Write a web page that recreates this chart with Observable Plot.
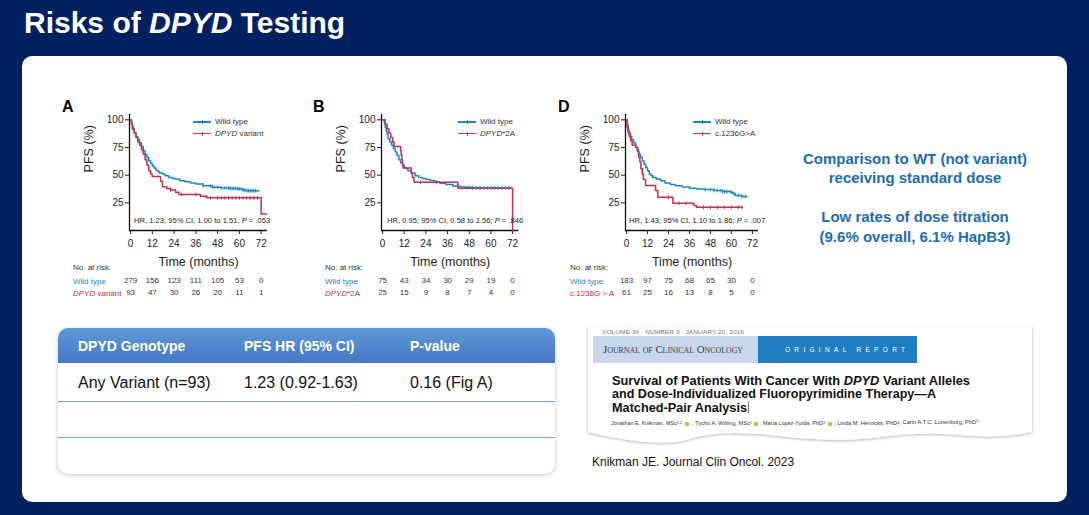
<!DOCTYPE html>
<html><head><meta charset="utf-8">
<script src="https://cdn.jsdelivr.net/npm/d3@7"></script>
<script src="https://cdn.jsdelivr.net/npm/@observablehq/plot@0.6"></script>
<style>
html,body{margin:0;padding:0;}
body{width:1089px;height:515px;background:#002060;position:relative;overflow:hidden;font-family:"Liberation Sans",Arial,sans-serif;}
.abs{position:absolute;white-space:nowrap;line-height:1;}
.c{transform:translateY(-50%);}
#panel{position:absolute;left:22px;top:56px;width:1045px;height:446px;background:#fff;border-radius:10px;}
#title{left:24px;top:7.6px;font-size:30px;font-weight:bold;color:#fff;}
.plotbox{position:absolute;top:90px;}
.side{position:absolute;left:765px;width:300px;text-align:center;color:#1b6cb3;font-weight:bold;font-size:15px;line-height:1;}
#table{position:absolute;left:58px;top:328px;width:497px;height:146px;border-radius:10px;background:#fff;box-shadow:0 1px 5px rgba(0,0,0,0.22);overflow:hidden;}
#thead{position:absolute;left:0;top:0;width:100%;height:35px;background:linear-gradient(#5e9ad6,#4676c6);}
.th{position:absolute;top:17.5px;transform:translateY(-50%);color:#fff;font-weight:bold;font-size:14px;line-height:1;white-space:nowrap;}
.td{position:absolute;top:55px;transform:translateY(-50%);color:#111;font-size:16px;line-height:1;white-space:nowrap;}
.hl{position:absolute;left:0;width:100%;height:1px;background:#7f9bd6;}
</style></head><body>
<div id="title" class="abs">Risks of <i>DPYD</i> Testing</div>
<div id="panel"></div>
<div id="overlay"></div>

<div class="side" style="top:151px;">Comparison to WT (not variant)</div>
<div class="side" style="top:170px;">receiving standard dose</div>
<div class="side" style="top:209px;">Low rates of dose titration</div>
<div class="side" style="top:229px;">(9.6% overall, 6.1% HapB3)</div>

<div id="table">
  <div id="thead"></div>
  <div class="th" style="left:20px;">DPYD Genotype</div>
  <div class="th" style="left:186px;">PFS HR (95% CI)</div>
  <div class="th" style="left:352px;">P-value</div>
  <div class="td" style="left:20px;">Any Variant (n=93)</div>
  <div class="td" style="left:186px;">1.23 (0.92-1.63)</div>
  <div class="td" style="left:352px;">0.16 (Fig A)</div>
  <div class="hl" style="top:73px;"></div>
  <div class="hl" style="top:109px;"></div>
</div>

<svg style="position:absolute;left:580px;top:318px;overflow:visible" width="460" height="130">
  <defs><filter id="sh" x="-5%" y="-10%" width="110%" height="130%"><feDropShadow dx="0" dy="1" stdDeviation="1.6" flood-color="#000" flood-opacity="0.3"/></filter></defs>
  <path d="M8,8 H452 V114 Q420,121 380,117 T300,119 T200,118 T110,121 T8,114 Z" fill="#fff" filter="url(#sh)"/>
  <g transform="translate(8,8)" font-family="Liberation Sans, Arial, sans-serif">
    <text x="14" y="7" font-size="5.5" fill="#777" dominant-baseline="middle" textLength="142" lengthAdjust="spacingAndGlyphs">VOLUME 34 · NUMBER 3 · JANUARY 20, 2016</text>
    <rect x="5" y="10" width="165" height="27" fill="#c9d7eb"/>
    <text x="15" y="24" font-family="Liberation Serif, serif" font-size="11" fill="#3a3a3a" dominant-baseline="middle" style="font-variant:small-caps" textLength="140" lengthAdjust="spacingAndGlyphs">Journal of Clinical Oncology</text>
    <rect x="170" y="10" width="159" height="27" fill="#1f7dc2"/>
    <text x="197" y="24" font-size="6.5" fill="#fff" dominant-baseline="middle" textLength="120" lengthAdjust="spacing">ORIGINAL REPORT</text>
    <text x="24" y="58.5" font-size="12.5" font-weight="bold" fill="#111" textLength="358" lengthAdjust="spacingAndGlyphs">Survival of Patients With Cancer With <tspan font-style="italic">DPYD</tspan> Variant Alleles</text>
    <text x="24" y="72" font-size="12.5" font-weight="bold" fill="#111" textLength="324" lengthAdjust="spacingAndGlyphs">and Dose-Individualized Fluoropyrimidine Therapy—A</text>
    <text x="24" y="85.5" font-size="12.5" font-weight="bold" fill="#111" textLength="135" lengthAdjust="spacingAndGlyphs">Matched-Pair Analysis</text>
    <line x1="160.5" x2="160.5" y1="75.5" y2="87" stroke="#333" stroke-width="0.7"/>
    <g font-size="5.2" fill="#333" dominant-baseline="middle">
      <text x="23" y="98" textLength="71" lengthAdjust="spacingAndGlyphs">Jonathan E. Knikman, MSc<tspan font-size="3.5" dy="-1.5">1,2</tspan></text>
      <text x="104" y="98" textLength="60" lengthAdjust="spacingAndGlyphs">; Tycho A. Wilting, MSc<tspan font-size="3.5" dy="-1.5">1</tspan></text>
      <text x="172" y="98" textLength="65" lengthAdjust="spacingAndGlyphs">; Marta Lopez-Yurda, PhD<tspan font-size="3.5" dy="-1.5">3</tspan></text>
      <text x="246" y="98" textLength="146" lengthAdjust="spacingAndGlyphs">; Linda M. Henricks, PhD<tspan font-size="3.5" dy="-1.5">4</tspan>; Carin A.T.C. Lunenburg, PhD<tspan font-size="3.5" dy="-1.5">5</tspan>;</text>
    </g>
    <circle cx="99" cy="98" r="2.3" fill="#a6ce39"/>
    <circle cx="168" cy="98" r="2.3" fill="#a6ce39"/>
    <circle cx="242" cy="98" r="2.3" fill="#a6ce39"/>
  </g>
</svg>
<div class="abs c" style="left:592px;top:462px;font-size:12px;color:#111;">Knikman JE. Journal Clin Oncol. 2023</div>

<script>
// ---------- DATA ----------
const timeTicks = [0, 12, 24, 36, 48, 60, 72];
const pfsTicks = [25, 50, 75, 100];

// Panel A: Wild type vs DPYD variant  [month, PFS %]
const A_wildType = [[0,100],[0.5,97],[1,94],[1.5,91],[2,88],[3,85],[4,82],[5,79],[6,76],[7,72],[8,69],[9,66],[10,63],[11,60.5],[12,58.5],[13,56.5],[14,54.5],[15,53],[16,52],[17.6,51],[19,49.5],[21,48],[23,47],[24.8,46.5],[27,45],[30,44],[33,43],[36,42],[40,40.5],[45,39],[50,38.5],[55,38],[59,37.6],[62,36.5],[64,36],[70.5,35.5]];
const A_variant = [[0,100],[0.5,96],[1,92],[2,88],[3,84],[4,80],[5,77],[6,73],[7,69],[8,64],[9,59],[10,54],[11,51],[11.9,48.8],[16.5,44.5],[17.6,39.5],[20,38],[22,36.7],[24.8,34.6],[26.6,32.5],[38.5,31],[42,29.5],[72,15],[75,15]];
const A_wildTypeCensored = [40,44,46,48,50,52,54,55,56,57,58,59,60,61,62,63,64,65,66,67,68,69];
const A_variantCensored = [22,28,36,44,48,50,52,54,56,58,60,62,64,66,68,70];
const A_riskWildType = [279,156,123,111,105,53,0];
const A_riskVariant = [93,47,30,26,20,11,1];

// Panel B: Wild type vs DPYD*2A
const B_wildType = [[0,100],[1,97],[1.5,93],[2,90],[2.5,87],[3,83],[4,80],[5,77],[6,74],[7,71],[8,68],[9,64],[10,61],[11,59],[12,57],[13,56],[14,54],[16,52],[18,49.5],[20,48],[22,47],[24,46],[26.3,45.2],[29,44],[31.8,42.7],[35,41.5],[39,40],[43,39.3],[46.6,39],[50,38.5],[71,38.2]];
const B_variant = [[0,100],[1.5,96],[2.5,92],[3.5,88],[4.5,84],[5.5,80],[6.3,76],[10,72],[10.3,68],[10.7,64],[11,60],[11.4,56.5],[15.8,52],[16.5,48],[17.4,43.5],[41.7,38.2],[72,0]];
const B_wildTypeCensored = [48,50,52,54,56,58,60,62,64,66,68,70];
const B_variantCensored = [21,30];
const B_riskWildType = [75,43,34,30,29,19,0];
const B_riskVariant = [25,15,9,8,7,4,0];

// Panel D: Wild type vs c.1236G>A
const D_wildType = [[0,100],[0.5,95],[1,91],[1.5,88],[2.3,85],[3,82],[4,79],[5.2,75.5],[6,72],[7,69],[8,66],[9,63],[10,60],[11,57],[12,54],[13,51],[14,49.5],[15,48],[17,46.5],[19.5,45],[22,43],[25,41.6],[28,40.5],[32,39.2],[36,38.2],[40,37.6],[45,37],[50,36.1],[55,35.2],[59.5,34.6],[61,33],[62.4,31.6],[66,30.7],[69,30.7]];
const D_variant = [[0,100],[0.3,93],[0.8,89],[1.5,85],[2.3,81],[3.2,77],[5.2,75],[6.5,71],[7,66],[7.6,62],[8.2,56],[9,51],[9.6,46],[10.9,40.6],[16.6,36.1],[17.9,30.1],[26.5,24.7],[38.5,22.7],[40,21],[66.2,21]];
const D_wildTypeCensored = [45,48,50,52,54,55,56,57,58,60,62,64,66,68];
const D_variantCensored = [24,30,34,44,48,52,56,60,64,66];
const D_riskWildType = [183,97,75,68,65,30,0];
const D_riskVariant = [61,25,16,13,8,5,0];

const panels = [
  {letter:"A", left:55, axisLeft:129, axisRight:267, wt:A_wildType, v:A_variant, wtC:A_wildTypeCensored, vC:A_variantCensored,
   rWT:A_riskWildType, rV:A_riskVariant, vLabel:"<i>DPYD</i> variant", vRisk:"<i>DPYD</i> variant",
   hr:"HR, 1.23; 95% CI, 1.00 to 1.51; <i>P</i> = .053", letterX:62, legendX:193, riskX:73, hrX:134},
  {letter:"B", left:305, axisLeft:381, axisRight:518.4, wt:B_wildType, v:B_variant, wtC:B_wildTypeCensored, vC:B_variantCensored,
   rWT:B_riskWildType, rV:B_riskVariant, vLabel:"<i>DPYD</i>*2A", vRisk:"<i>DPYD</i>*2A",
   hr:"HR, 0.95; 95% CI, 0.58 to 1.56; <i>P</i> = .846", letterX:313, legendX:458, riskX:325, hrX:387},
  {letter:"D", left:550, axisLeft:625, axisRight:758, wt:D_wildType, v:D_variant, wtC:D_wildTypeCensored, vC:D_variantCensored,
   rWT:D_riskWildType, rV:D_riskVariant, vLabel:"c.1236G&gt;A", vRisk:"c.1236G &gt; A",
   hr:"HR, 1.43; 95% CI, 1.10 to 1.86; <i>P</i> = .007", letterX:558, legendX:693, riskX:570, hrX:629}
];

// ---------- DRAW ----------
const BLUE = "#2186bf", RED = "#bf2f50";
const toObj = arr => arr.map(([t,s]) => ({t, s}));
function stepAt(curve, t){ let s = curve[0][1]; for (const [ct, cs] of curve) { if (ct <= t) s = cs; else break; } return s; }
const censor = (curve, times) => times.map(t => ({t, s: stepAt(curve, t)}));

const overlay = document.getElementById("overlay");
function addText(html, x, y, style){
  const d = document.createElement("div");
  d.className = "abs c"; d.innerHTML = html;
  d.style.left = x + "px"; d.style.top = y + "px";
  Object.assign(d.style, style || {});
  overlay.appendChild(d);
}
function legendRow(x, y, color, html){
  const l = document.createElement("div");
  Object.assign(l.style, {position:"absolute", left:x+"px", top:(y-0.75)+"px", width:"18px", height:"1.5px", background:color});
  overlay.appendChild(l);
  const t = document.createElement("div");
  Object.assign(t.style, {position:"absolute", left:(x+9)+"px", top:(y-2)+"px", width:"1px", height:"4px", background:color});
  overlay.appendChild(t);
  addText(html, x+22, y, {fontSize:"8px", color:"#333"});
}

const W = 230, H = 215, TOP = 90, Y0 = 230, YTOP = 113.8;
const FONT = '"Liberation Sans", Arial, sans-serif';

for (const p of panels) {
  const chart = Plot.plot({
    width: W, height: H,
    marginLeft: p.axisLeft - p.left, marginRight: W - (p.axisRight - p.left),
    marginTop: YTOP - TOP, marginBottom: H - (Y0 - TOP),
    style: {fontFamily: FONT, fontSize: "10px", background: "transparent", overflow: "visible", color: "#222"},
    x: {domain: [-0.6, 75.5], ticks: timeTicks, tickSize: 4, tickPadding: 5, label: null},
    y: {domain: [0, 105], ticks: pfsTicks, tickSize: 4, tickPadding: 2, label: null},
    marks: [
      Plot.ruleX([-0.6], {stroke: "#111", strokeWidth: 1.3}),
      Plot.ruleY([0], {stroke: "#111", strokeWidth: 1.3}),
      Plot.line(toObj(p.wt), {x: "t", y: "s", curve: "step-after", stroke: BLUE, strokeWidth: 1.5}),
      Plot.line(toObj(p.v), {x: "t", y: "s", curve: "step-after", stroke: RED, strokeWidth: 1.5}),
      Plot.link(censor(p.wt, p.wtC), {x1: "t", x2: "t", y1: d => d.s - 1.8, y2: d => d.s + 1.8, stroke: BLUE, strokeWidth: 0.9}),
      Plot.link(censor(p.v, p.vC), {x1: "t", x2: "t", y1: d => d.s - 1.8, y2: d => d.s + 1.8, stroke: RED, strokeWidth: 0.9}),
      Plot.text(["Time (months)"], {frameAnchor: "bottom", dy: 35, fontSize: 12.5, fill: "#222"}),
      Plot.text(["PFS (%)"], {frameAnchor: "left", dx: -41, rotate: -90, fontSize: 12.5, fill: "#222"}),
      Plot.text(timeTicks, {x: d => d, text: (d, i) => String(p.rWT[i]), frameAnchor: "bottom", dy: 52, fontSize: 8, fill: "#333"}),
      Plot.text(timeTicks, {x: d => d, text: (d, i) => String(p.rV[i]), frameAnchor: "bottom", dy: 64, fontSize: 8, fill: "#333"})
    ]
  });
  const box = document.createElement("div");
  box.className = "plotbox"; box.style.left = p.left + "px";
  box.appendChild(chart);
  document.body.appendChild(box);

  addText(p.letter, p.letterX, 107, {fontSize: "16px", fontWeight: "bold", color: "#000"});
  legendRow(p.legendX, 122, BLUE, "Wild type");
  legendRow(p.legendX, 133.5, RED, p.vLabel);
  addText(p.hr, p.hrX, 221, {fontSize: "7.6px", color: "#222"});
  addText("No. at risk:", p.riskX, 268, {fontSize: "8px", color: "#333"});
  addText("Wild type", p.riskX, 282, {fontSize: "8px", color: BLUE});
  addText(p.vRisk, p.riskX, 294, {fontSize: "8px", color: RED});
}
document.body.appendChild(overlay);
</script>
</body></html>
